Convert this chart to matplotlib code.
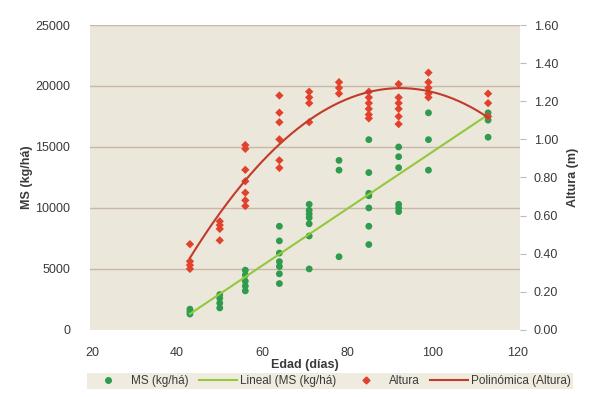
import numpy as np
import matplotlib
matplotlib.use("Agg")
import matplotlib.pyplot as plt
from matplotlib.lines import Line2D

# MS (kg/ha) observations
ms_edad = [43, 43, 43,
           50, 50, 50, 50,
           56, 56, 56, 56, 56,
           64, 64, 64, 64, 64, 64, 64,
           71, 71, 71, 71, 71, 71, 71,
           78, 78, 78,
           85, 85, 85, 85, 85, 85, 85,
           92, 92, 92, 92, 92, 92,
           99, 99, 99,
           113, 113, 113]
ms_valor = [1300, 1500, 1700,
            1800, 2200, 2600, 2900,
            3200, 3600, 4000, 4500, 4900,
            3800, 4600, 5200, 5600, 6300, 7300, 8500,
            5000, 7700, 8700, 9200, 9500, 9800, 10300,
            6000, 13100, 13900,
            7000, 8500, 10000, 11000, 12900, 15600, 11200,
            9700, 10000, 10300, 13300, 14200, 15000,
            13100, 15600, 17800,
            15800, 17200, 17800]

# Altura (m) observations
alt_edad = [43, 43, 43, 43,
            50, 50, 50, 50,
            56, 56, 56, 56, 56, 56, 56,
            64, 64, 64, 64, 64, 64,
            71, 71, 71, 71,
            78, 78, 78,
            85, 85, 85, 85, 85, 85,
            92, 92, 92, 92, 92, 92,
            99, 99, 99, 99, 99,
            113, 113, 113]
alt_valor = [0.45, 0.36, 0.34, 0.32,
             0.57, 0.55, 0.53, 0.47,
             0.97, 0.95, 0.84, 0.78, 0.72, 0.68, 0.65,
             1.23, 1.14, 1.09, 1.00, 0.89, 0.85,
             1.25, 1.22, 1.19, 1.09,
             1.30, 1.27, 1.24,
             1.25, 1.22, 1.19, 1.16, 1.13, 1.11,
             1.29, 1.22, 1.19, 1.16, 1.12, 1.08,
             1.35, 1.30, 1.27, 1.24, 1.22,
             1.24, 1.19, 1.12]

x_ticks = [20, 40, 60, 80, 100, 120]
ms_ticks = [0, 5000, 10000, 15000, 20000, 25000]
alt_ticks = [0.0, 0.2, 0.4, 0.6, 0.8, 1.0, 1.2, 1.4, 1.6]
legend_labels = ["MS (kg/há)", "Lineal (MS (kg/há)", "Altura", "Polinómica (Altura)"]

plt.rcParams['font.family'] = ['Liberation Sans', 'DejaVu Sans']

green = "#2f9b4e"
lgreen = "#93c83e"
red = "#e2412c"
dred = "#c23a2a"
txt = "#3a3a3a"

fig = plt.figure(figsize=(5.95, 3.97), dpi=100)
ax = fig.add_axes([0.151, 0.169, 0.723, 0.768])
ax.set_facecolor("#ebe7da")
ax2 = ax.twinx()

ax.set_xlim(19.5, 120.5)
ax.set_ylim(0, 25000)
ax2.set_ylim(0, 1.6)

for v in ms_ticks[1:]:
    ax.axhline(v, color="#c9b8aa", lw=1.0, zorder=1)

ax.scatter(ms_edad, ms_valor, s=24, color=green, zorder=3, edgecolors="none")
cl = np.polyfit(ms_edad, ms_valor, 1)
xl = np.array([min(ms_edad), max(ms_edad)])
ax.plot(xl, np.polyval(cl, xl), color=lgreen, lw=1.5, zorder=4)

ax2.scatter(alt_edad, alt_valor, s=18, marker="D", color=red, zorder=3, edgecolors="none")
cp = np.polyfit(alt_edad, alt_valor, 2)
xp = np.linspace(min(alt_edad), max(alt_edad), 200)
ax2.plot(xp, np.polyval(cp, xp), color=dred, lw=1.5, zorder=4)

ax.set_xticks(x_ticks)
ax.set_yticks(ms_ticks)
ax.set_yticklabels([str(v) for v in ms_ticks])
ax2.set_yticks(alt_ticks)
ax2.set_yticklabels([f"{v:.2f}" for v in alt_ticks])

for a in (ax, ax2):
    for s in a.spines.values():
        s.set_visible(False)
ax.tick_params(axis="x", length=0, labelsize=9, labelcolor=txt, pad=12)
ax.tick_params(axis="y", length=0, labelsize=9, labelcolor=txt, pad=14)
ax2.tick_params(axis="y", length=4, color="#bbbbbb", labelsize=9, labelcolor=txt, pad=6)

ax.set_xlabel("Edad (días)", fontsize=9, fontweight="bold", color=txt, labelpad=0)
ax.set_ylabel("MS (kg/há)", fontsize=9, fontweight="bold", color=txt, labelpad=2)
ax2.set_ylabel("Altura (m)", fontsize=9, fontweight="bold", color=txt, rotation=90, labelpad=6)

handles = [
    Line2D([], [], marker="o", color=green, ls="none", markersize=4),
    Line2D([], [], color=lgreen, lw=1.5),
    Line2D([], [], marker="D", color=red, ls="none", markersize=3.5),
    Line2D([], [], color=dred, lw=1.5),
]
leg = fig.legend(handles, legend_labels, loc="center", bbox_to_anchor=(0.555, 0.04),
                 ncol=4, fontsize=8.5, frameon=True, fancybox=False, handlelength=3.2,
                 columnspacing=0.9, handletextpad=0.3, borderpad=0.2)
leg.get_frame().set_facecolor("#ece6d6")
leg.get_frame().set_edgecolor("none")
for t in leg.get_texts():
    t.set_color(txt)

fig.savefig("out.png", dpi=100, facecolor="white")
